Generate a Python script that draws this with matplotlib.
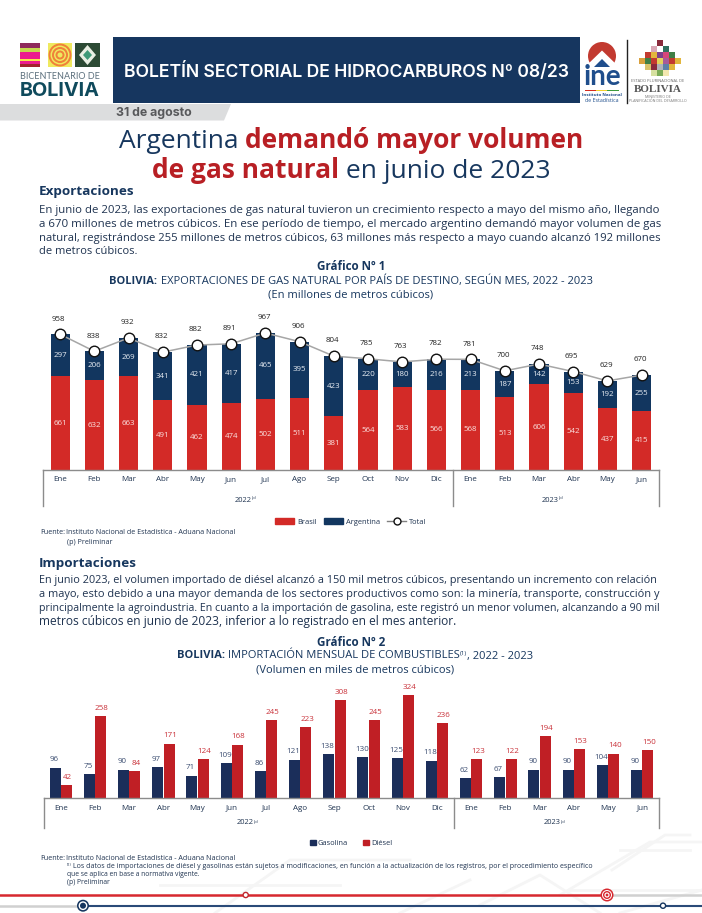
import matplotlib
matplotlib.use('Agg')
import matplotlib.pyplot as plt
from matplotlib.lines import Line2D
from matplotlib.patches import Circle, Patch, Polygon, Rectangle, Wedge

W, H = 702, 913
NAVY = '#17375e'
TEXT = '#1f3350'
RED = '#b81f24'

plt.rcParams['font.family'] = ['Open Sans', 'DejaVu Sans']

months = ['Ene', 'Feb', 'Mar', 'Abr', 'May', 'Jun', 'Jul', 'Ago', 'Sep', 'Oct', 'Nov', 'Dic',
          'Ene', 'Feb', 'Mar', 'Abr', 'May', 'Jun']
brasil = [661, 632, 663, 491, 462, 474, 502, 511, 381, 564, 583, 566, 568, 513, 606, 542, 437, 415]
argentina = [297, 206, 269, 341, 421, 417, 465, 395, 423, 220, 180, 216, 213, 187, 142, 153, 192, 255]
total = [958, 838, 932, 832, 882, 891, 967, 906, 804, 785, 763, 782, 781, 700, 748, 695, 629, 670]
gasolina = [96, 75, 90, 97, 71, 109, 86, 121, 138, 130, 125, 118, 62, 67, 90, 90, 104, 90]
diesel = [42, 258, 84, 171, 124, 168, 245, 223, 308, 245, 324, 236, 123, 122, 194, 153, 140, 150]

parrafo_exp = [
    'En junio de 2023, las exportaciones de gas natural tuvieron un crecimiento respecto a mayo del mismo año, llegando',
    'a 670 millones de metros cúbicos. En ese período de tiempo, el mercado argentino demandó mayor volumen de gas',
    'natural, registrándose 255 millones de metros cúbicos, 63 millones más respecto a mayo cuando alcanzó 192 millones',
]
parrafo_imp = [
    'En junio 2023, el volumen importado de diésel alcanzó a 150 mil metros cúbicos, presentando un incremento con relación',
    'a mayo, esto debido a una mayor demanda de los sectores productivos como son: la minería, transporte, construcción y',
    'principalmente la agroindustria. En cuanto a la importación de gasolina, este registró un menor volumen, alcanzando a 90 mil',
]

fig = plt.figure(figsize=(W / 100, H / 100), dpi=100)
page = fig.add_axes([0, 0, 1, 1])
page.set_xlim(0, W)
page.set_ylim(H, 0)
page.axis('off')
renderer = fig.canvas.get_renderer()


def text_width(s, size, **kw):
    t = page.text(0, 0, s, fontsize=size, **kw)
    w = t.get_window_extent(renderer).width
    t.remove()
    return w


def line_fit(x0, x1, y, s, size=8.5, color=TEXT, **kw):
    # try sizes round the guess, hinted widths do not scale evenly
    size = size * (x1 - x0) / text_width(s, size, **kw)
    sizes = [size * (0.9 + 0.005 * k) for k in range(41)]
    best = min(sizes, key=lambda z: abs(text_width(s, z, **kw) - (x1 - x0)))
    page.text(x0, y, s, fontsize=best, color=color, va='center', **kw)


def mixed(x_mid, y, parts):
    # parts: (text, size, weight, color, raise)
    widths = [text_width(p[0], p[1], fontweight=p[2]) for p in parts]
    x = x_mid - sum(widths) / 2
    for p, w in zip(parts, widths):
        page.text(x, y - p[4], p[0], fontsize=p[1], fontweight=p[2], color=p[3], va='center')
        x += w


def px_axes(left, right, top, bottom):
    return fig.add_axes([left / W, 1 - bottom / H, (right - left) / W, (bottom - top) / H])


def style_axis(ax, sep_bottom):
    ax.set_xlim(-0.5, 17.5)
    ax.patch.set_alpha(0)
    ax.set_yticks([])
    for side in ['top', 'left', 'right']:
        ax.spines[side].set_visible(False)
    ax.spines['bottom'].set_color('#8c8c8c')
    ax.spines['bottom'].set_linewidth(1)
    ax.set_xticks(range(18))
    ax.set_xticklabels(months, fontsize=5.8, color=TEXT)
    ax.tick_params(axis='x', length=0, pad=4.5)
    for x_pos in (-0.5, 11.5, 17.5):
        ax.plot([x_pos, x_pos], [0, sep_bottom], color='#8c8c8c', lw=1, clip_on=False)


def years(y, x22, x23):
    for x, s in ((x22, '2022'), (x23, '2023')):
        page.text(x, y, s, fontsize=5.4, color=TEXT, ha='center', va='center')
        page.text(x + 8.5, y - 1.5, '(p)', fontsize=3, color=TEXT, va='center')


# fondo tenue
for pts in ([(560, 895), (650, 842), (702, 842)], [(612, 870), (665, 835), (690, 835)],
            [(620, 850), (690, 850)], [(480, 905), (540, 875), (600, 913)], [(400, 913), (470, 880)],
            [(570, 890), (702, 890)], [(620, 913), (702, 890)], [(215, 913), (290, 860), (410, 860)],
            [(160, 885), (340, 885)]):
    page.plot(*zip(*pts), color='#f5f5f5', lw=2, zorder=0)

# cabecera
page.add_patch(Rectangle((113, 37), 467, 66.5, color='#16365f', lw=0))
page.add_patch(Polygon([(0, 104), (231, 104), (224, 120.5), (0, 120.5)], color='#dcddde', lw=0))
line_fit(124, 570, 71.5, 'BOLETÍN SECTORIAL DE HIDROCARBUROS Nº 08/23', size=12, color='white',
         fontweight='semibold', family='Inter')
line_fit(116, 192, 113, '31 de agosto', size=8.5, color='#58595b', fontweight='bold', family='Inter')

# logo bicentenario
for y0, h, c in ((43, 5, '#8e2a5b'), (48, 4, '#c6d94f'), (52, 7, '#ec1c8e'), (59, 2, '#f5e94a'),
                 (61, 3, '#ec1c8e'), (64, 3, '#a3232e')):
    page.add_patch(Rectangle((20, y0), 20, h, color=c, lw=0))
page.add_patch(Rectangle((48, 43), 24, 24, color='#efe95f', lw=0))
for r, c in ((11.5, '#f0813a'), (9.5, '#efe95f'), (8, '#f0813a'), (6, '#efe95f'), (4.5, '#f0813a'), (2.5, '#efe95f')):
    page.add_patch(Circle((60, 55), r, color=c, lw=0))
page.add_patch(Rectangle((75, 43), 25, 24, color='#2c4a34', lw=0))
page.add_patch(Polygon([(87.5, 45), (96, 55), (87.5, 65), (79, 55)], color='#e9efe3', lw=0))
page.add_patch(Polygon([(87.5, 50), (92, 55), (87.5, 60), (83, 55)], color='#3f9a78', lw=0))
line_fit(20, 100, 76.5, 'BICENTENARIO DE', size=6.5, color='#5b6f7c', family='Lato')
line_fit(20, 100, 90.5, 'BOLIVIA', size=14, color='#0f4a5c', fontweight='bold', family='Inter')

# logo ine
page.add_patch(Wedge((602, 56), 14, 0, 360, color='#c23a30', lw=0))
page.add_patch(Polygon([(586, 66), (602, 50.5), (618, 66), (618, 72), (586, 72)], color='white', lw=0))
page.add_patch(Polygon([(594, 67), (602, 59), (610, 67)], color='#1f4e8c', lw=0))
page.text(602, 77, 'ine', fontsize=20, color='#1f4e8c', fontweight='bold', ha='center', va='center', family='Lato')
for x0, c in ((585, '#d52b1e'), (596, '#f3d02c'), (607, '#3c9a3c')):
    page.add_patch(Rectangle((x0, 90), 11.5, 1, color=c, lw=0))
page.text(602, 94.5, 'Instituto Nacional', fontsize=3.2, color='#1f4e8c', ha='center', va='center', fontweight='bold')
page.text(602, 100, 'de Estadística', fontsize=3.8, color='#1f4e8c', ha='center', va='center')
page.plot([627, 627], [40, 103], color='#222222', lw=1)

# logo bolivia (mosaico)
mosaico = [(657, 40, 6, '#8a2b3c'), (651, 46, 6, '#d9a7b5'), (663, 46, 6, '#2f6f5e'), (645, 52, 6, '#c23a30'),
           (651, 52, 6, '#e2b63c'), (657, 52, 6, '#7d3f8c'), (663, 52, 6, '#d6457a'), (669, 52, 6, '#3f7f46'),
           (639, 58, 6, '#d9a03c'), (645, 58, 6, '#3f7f46'), (651, 58, 6, '#c23a30'), (657, 58, 6, '#e4d35a'),
           (663, 58, 6, '#a85a98'), (669, 58, 6, '#c23a30'), (675, 58, 6, '#e2b63c'), (645, 64, 6, '#d9c26a'),
           (651, 64, 6, '#8a2b3c'), (657, 64, 6, '#b0b2b8'), (663, 64, 6, '#5c7fa8'), (669, 64, 6, '#e2b63c'),
           (651, 70, 6, '#d6e0a0'), (657, 70, 6, '#7bab57'), (663, 70, 6, '#f3e7b0')]
for x0, y0, s, c in mosaico:
    page.add_patch(Rectangle((x0, y0), s, s, color=c, lw=0))
page.text(658, 81, 'ESTADO PLURINACIONAL DE', fontsize=2.9, color='#666666', ha='center', va='center')
line_fit(634, 682, 89.5, 'BOLIVIA', size=8.2, color='#555555', family='Liberation Serif', fontweight='bold')
page.text(658, 97.5, 'MINISTERIO DE', fontsize=2.6, color='#777777', ha='center', va='center')
page.text(658, 101.5, 'PLANIFICACIÓN DEL DESARROLLO', fontsize=2.6, color='#777777', ha='center', va='center')

# titular
t1 = 19
mixed(351, 141, [('Argentina ', t1, 'normal', NAVY, 0), ('demandó mayor volumen', t1, 'bold', RED, 0)])
mixed(351, 171, [('de gas natural', t1, 'bold', RED, 0), (' en junio de 2023', t1, 'normal', NAVY, 0)])

# texto exportaciones
page.text(39, 192, 'Exportaciones', fontsize=9.7, fontweight='bold', color=NAVY, va='center')
for i, s in enumerate(parrafo_exp):
    line_fit(39, 661, 210 + i * 14, s)
line_fit(39, 138, 252, 'de metros cúbicos.')

mixed(351, 267, [('Gráfico Nº 1', 8.4, 'bold', NAVY, 0)])
mixed(351, 281, [('BOLIVIA:', 8, 'bold', NAVY, 0),
                 (' EXPORTACIONES DE GAS NATURAL POR PAÍS DE DESTINO, SEGÚN MES, 2022 - 2023', 8, 'normal', NAVY, 0)])
mixed(351, 295, [('(En millones de metros cúbicos)', 8, 'normal', NAVY, 0)])

# grafico 1
ax1 = px_axes(43, 658.7, 300, 470)
x = list(range(18))
ax1.bar(x, brasil, 0.56, color='#d32a27')
ax1.bar(x, argentina, 0.56, bottom=brasil, color='#12365f')
ax1.plot(x, total, color='#a6a6a6', lw=1.1, marker='o', ms=7.6, mfc='white', mec='#111111', mew=1, clip_on=False)
ax1.set_ylim(0, 1200)
style_axis(ax1, -255)
for i in x:
    ax1.text(i, brasil[i] / 2, str(brasil[i]), color='#fbe3e1', fontsize=5.7, ha='center', va='center')
    ax1.text(i, brasil[i] + argentina[i] / 2, str(argentina[i]), color='#e8edf3', fontsize=5.7, ha='center', va='center')
    ax1.annotate(str(total[i]), (i, total[i]), xytext=(-1, 11), textcoords='offset points', color='#222222',
                 fontsize=5.7, ha='center', va='center')
years(500, 243, 550)
handles1 = [Patch(color='#d32a27', label='Brasil'), Patch(color='#12365f', label='Argentina'),
            Line2D([], [], color='#808080', lw=1, marker='o', ms=5, mfc='white', mec='#111111', label='Total')]
ax1.legend(handles=handles1, ncol=3, loc='center', bbox_to_anchor=(350.5 / W, 1 - 522 / H), bbox_transform=fig.transFigure,
           frameon=False, fontsize=5.4, labelcolor=TEXT, handlelength=2.6, handleheight=0.7, handletextpad=0.35,
           columnspacing=0.95, borderpad=0)

page.text(40, 533, 'Fuente:', fontsize=5.1, color=TEXT, va='center')
page.text(66, 533, 'Instituto Nacional de Estadística - Aduana Nacional', fontsize=5.1, color=TEXT, va='center')
page.text(67, 542, '(p) Preliminar', fontsize=5.1, color=TEXT, va='center')

# texto importaciones
page.text(39, 564, 'Importaciones', fontsize=9.7, fontweight='bold', color=NAVY, va='center')
for i, s in enumerate(parrafo_imp):
    line_fit(39, 661, 581 + i * 14, s)
line_fit(39, 458, 622, 'metros cúbicos en junio de 2023, inferior a lo registrado en el mes anterior.')

mixed(351, 642, [('Gráfico Nº 2', 8.4, 'bold', NAVY, 0)])
mixed(355, 656, [('BOLIVIA:', 8, 'bold', NAVY, 0), (' IMPORTACIÓN MENSUAL DE COMBUSTIBLES', 8, 'normal', NAVY, 0),
                 ('(1)', 4.4, 'normal', NAVY, 2.5), (', 2022 - 2023', 8, 'normal', NAVY, 0)])
mixed(355, 670, [('(Volumen en miles de metros cúbicos)', 8, 'normal', NAVY, 0)])

# grafico 2
ax2 = px_axes(43.7, 659.3, 680, 798.3)
ax2.bar([i - 0.165 for i in x], gasolina, 0.32, color='#1b2e5a')
ax2.bar([i + 0.165 for i in x], diesel, 0.32, color='#c01f25')
ax2.set_ylim(0, 370)
style_axis(ax2, -93)
for i in x:
    ax2.annotate(str(gasolina[i]), (i - 0.2, gasolina[i]), xytext=(0, 5.5), textcoords='offset points',
                 color='#3d4f72', fontsize=5.8, ha='center', va='center')
    ax2.annotate(str(diesel[i]), (i + 0.2, diesel[i]), xytext=(0, 5.5), textcoords='offset points',
                 color='#c9323a', fontsize=5.8, ha='center', va='center')
years(823, 245, 552)
handles2 = [Patch(color='#1b2e5a', label='Gasolina'), Patch(color='#c01f25', label='Diésel')]
ax2.legend(handles=handles2, ncol=2, loc='center', bbox_to_anchor=(351 / W, 1 - 843.5 / H), bbox_transform=fig.transFigure,
           frameon=False, fontsize=5.4, labelcolor=TEXT, handlelength=0.75, handleheight=0.75, handletextpad=0.3,
           columnspacing=2.0, borderpad=0)

page.text(40, 858, 'Fuente:', fontsize=5.1, color=TEXT, va='center')
page.text(66, 858, 'Instituto Nacional de Estadística - Aduana Nacional', fontsize=5.1, color=TEXT, va='center')
page.text(67, 865, '(1)', fontsize=3, color=TEXT, va='center')
line_fit(73, 586, 866.5, 'Los datos de importaciones de diésel y gasolinas están sujetos a modificaciones, en función a la '
         'actualización de los registros, por el procedimiento específico', size=4.9)
page.text(67, 874.5, 'que se aplica en base a normativa vigente.', fontsize=4.9, color=TEXT, va='center')
page.text(67, 883, '(p) Preliminar', fontsize=4.9, color=TEXT, va='center')

# pie de pagina
page.plot([0, 603], [895, 895], color='#d7282f', lw=1.8)
page.plot([603, 702], [895, 895], color='#d0d0d0', lw=1.8)
page.plot([0, 78], [905.7, 905.7], color='#d0d0d0', lw=1.8)
page.plot([88, 702], [905.7, 905.7], color='#2a4a78', lw=1.5)
page.add_patch(Circle((245.7, 895), 2.6, fc='white', ec='#c0272d', lw=1, zorder=5))
page.add_patch(Circle((663, 905.7), 2.6, fc='white', ec='#16365f', lw=1, zorder=5))
for r, c in ((6.5, '#d7282f'), (5, 'white'), (4, '#d7282f'), (2.6, 'white'), (1.4, '#d7282f')):
    page.add_patch(Circle((607, 895), r, color=c, lw=0, zorder=5))
for r, c in ((6, '#16365f'), (4.4, 'white'), (3, '#16365f')):
    page.add_patch(Circle((83, 905.7), r, color=c, lw=0, zorder=5))

fig.savefig('out.png', dpi=100)
